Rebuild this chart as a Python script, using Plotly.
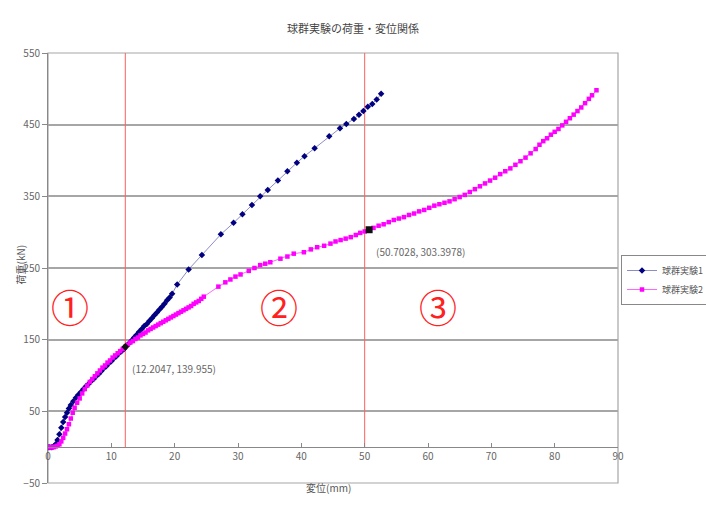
import plotly.graph_objects as go

# ---- data -------------------------------------------------------------
# 球群実験1: displacement (mm) / load (kN)
disp_1 = [0.0, 0.3, 0.6, 0.9, 1.2, 1.5, 1.8, 2.1, 2.4, 2.7, 3.0, 3.3, 3.6, 4.0, 4.4,
          4.8, 5.2, 5.6, 6.0, 6.4, 6.8, 7.2, 7.6, 8.0, 8.4, 8.8, 9.2, 9.6, 10.0, 10.4,
          10.8, 11.2, 11.6, 12.0, 12.4, 12.8, 13.2, 13.6, 14.0, 14.4, 14.8, 15.2, 15.6,
          16.0, 16.4, 16.8, 17.2, 17.6, 18.0, 18.4, 18.8, 19.2, 19.6,
          20.4, 22.2, 24.3, 27.3, 29.3, 30.7, 32.2, 33.5, 34.7, 36.3, 37.8, 39.3, 40.5,
          42.1, 44.4, 46.1, 47.1, 48.3, 49.1, 49.8, 50.5, 51.2, 51.9, 52.6]
load_1 = [0, 0, 0, 1, 4, 10, 18, 27, 35, 42, 48, 54, 59, 64, 69,
          73, 77, 81, 85, 88, 92, 95, 99, 102, 106, 110, 113, 117, 120, 124,
          127, 131, 134, 137, 141, 145, 149, 153, 157, 161, 165, 169, 172,
          176, 180, 184, 188, 192, 196, 200, 205, 209, 214,
          227, 248, 268, 297, 313, 325, 338, 350, 359, 372, 385, 397, 406,
          417, 434, 445, 451, 458, 464, 469, 475, 479, 485, 493]

# 球群実験2: displacement (mm) / load (kN)
disp_2 = [0.0, 0.3, 0.6, 0.9, 1.2, 1.5, 1.8, 2.1, 2.4, 2.7, 3.0, 3.3, 3.6, 3.9, 4.2,
          4.6, 5.0, 5.4, 5.8, 6.2, 6.6, 7.0, 7.4, 7.8, 8.2, 8.6, 9.0, 9.4, 9.8, 10.2,
          10.6, 11.0, 11.4, 11.8, 12.2, 12.6, 13.0, 13.4, 13.8, 14.2, 14.6, 15.0, 15.4,
          15.8, 16.2, 16.6, 17.0, 17.4, 17.8, 18.2, 18.6, 19.0, 19.4, 19.8, 20.2, 20.6,
          21.0, 21.4, 21.8, 22.2, 22.6, 23.0, 23.4, 23.8, 24.2, 24.6,
          26.9, 28.0, 28.8, 29.6, 30.4, 31.7, 32.6, 33.5, 34.3, 35.1, 36.7, 37.8, 38.8,
          40.4, 41.5, 42.5, 43.6, 44.6, 45.4, 46.2, 47.0, 47.8, 48.6,
          49.3, 50.0, 50.7, 51.4, 52.2, 53.0, 53.8, 54.6, 55.4, 56.2, 57.0, 57.8, 58.6, 59.4,
          60.2, 61.0, 61.8, 62.6, 63.4, 64.2, 65.0, 65.8, 66.6, 67.4, 68.2, 69.0, 69.8,
          70.6, 71.4, 72.2, 73.0, 73.8, 74.6, 75.4, 76.2, 77.0, 77.6, 78.2, 78.8, 79.4,
          80.0, 80.6, 81.2, 81.8, 82.4, 83.0, 83.6, 84.2, 84.8, 85.4, 85.9, 86.6]
load_2 = [0, 0, 0, 0, 1, 2, 4, 8, 13, 19, 25, 32, 40, 48, 55,
          62, 68, 75, 81, 86, 91, 95, 99, 103, 107, 111, 114, 118, 121, 125,
          128, 131, 134, 137, 140, 143, 146, 148, 151, 153, 156, 158, 160,
          163, 165, 167, 169, 171, 173, 175, 177, 179, 181, 183, 185, 187,
          189, 191, 193, 195, 197, 200, 202, 204, 207, 210,
          224, 230, 234, 238, 241, 246, 250, 254, 256, 258, 263, 266, 270,
          272, 276, 279, 281, 284, 287, 289, 291, 293, 296,
          299, 301, 303, 306, 309, 311, 314, 317, 319, 321, 324, 326, 329, 331,
          334, 337, 339, 341, 343, 346, 349, 352, 356, 360, 364, 368, 372,
          376, 381, 385, 389, 394, 399, 404, 410, 416, 422, 427, 431, 436,
          440, 444, 449, 454, 459, 464, 469, 474, 480, 486, 491, 498]

# labelled points
point_a = ("12.2047", "139.955")
point_b = ("50.7028", "303.3978")

# stage boundaries and stage markers
boundaries = [12.2047, 50.0]
stage_labels = ["①", "②", "③"]
stage_x = [3.5, 36.4, 61.5]
stage_y = [198, 198, 198]

x_ticks = [0, 10, 20, 30, 40, 50, 60, 70, 80, 90]
y_ticks = [-50, 50, 150, 250, 350, 450, 550]

JP = "Noto Sans CJK JP"
GRID = "#a6a6a6"

W, H = 706, 511
ML, MR, MT, MB = 48, 88, 53, 28
pw, ph = W - ML - MR, H - MT - MB


def px_to_paper(px, py):
    return (px - ML) / pw, (H - MB - py) / ph


fig = go.Figure()

# stage boundary lines
for b in boundaries:
    fig.add_trace(go.Scatter(x=[b, b], y=[0, 550], mode="lines",
                             line=dict(color="#ff6060", width=1),
                             showlegend=False, hoverinfo="skip"))

fig.add_trace(go.Scatter(
    x=disp_1, y=load_1, mode="lines+markers", name="球群実験1",
    line=dict(color="rgba(0,0,128,0.45)", width=1),
    marker=dict(symbol="diamond", size=5, color="#000080"),
))
fig.add_trace(go.Scatter(
    x=disp_2, y=load_2, mode="lines+markers", name="球群実験2",
    line=dict(color="rgba(255,0,255,0.6)", width=1),
    marker=dict(symbol="square", size=4.5, color="#ff00ff"),
))

# highlighted points
for p, sym, sz in ((point_a, "diamond", 6), (point_b, "square", 7)):
    fig.add_trace(go.Scatter(x=[float(p[0])], y=[float(p[1])], mode="markers",
                             marker=dict(symbol=sym, size=sz, color="#111111"),
                             showlegend=False))

annotations = []
for p in (point_a, point_b):
    annotations.append(dict(
        x=float(p[0]), y=float(p[1]), xref="x", yref="y", xanchor="left", yanchor="top",
        xshift=5, yshift=-12, showarrow=False,
        text=f"({p[0]}, {p[1]})",
        font=dict(family=JP, size=10, color="#666666"),
    ))
for t, sx, sy in zip(stage_labels, stage_x, stage_y):
    annotations.append(dict(
        x=sx, y=sy, xref="x", yref="y", showarrow=False, text=t,
        font=dict(family=JP, size=38, color="#ff2020"),
    ))

tx, ty = px_to_paper(W / 2, 18)
xx, xy = px_to_paper(328, 497)
yx, yy = px_to_paper(10, 265)
annotations += [
    dict(x=tx, y=ty, xref="paper", yref="paper", showarrow=False,
         text="球群実験の荷重・変位関係",
         font=dict(family=JP, size=11, color="#444444")),
    dict(x=xx, y=xy, xref="paper", yref="paper", showarrow=False,
         text="変位(mm)", font=dict(family=JP, size=10, color="#555555")),
    dict(x=yx, y=yy, xref="paper", yref="paper", showarrow=False, textangle=-90,
         text="荷重(kN)", font=dict(family=JP, size=10, color="#555555")),
]

lx, ly = px_to_paper(621, 255)

fig.update_layout(
    width=W, height=H,
    margin=dict(l=ML, r=MR, t=MT, b=MB, autoexpand=False),
    plot_bgcolor="white", paper_bgcolor="white",
    font=dict(family=JP, size=10, color="#666666"),
    annotations=annotations,
    shapes=[dict(type="rect", xref="paper", yref="paper", x0=0, x1=1, y0=0, y1=1,
                 line=dict(color=GRID, width=1.2), layer="below")],
    legend=dict(x=lx, y=ly, xanchor="left", yanchor="top",
                bgcolor="white", bordercolor="#888888", borderwidth=1,
                font=dict(family=JP, size=9, color="#555555"),
                tracegroupgap=0, itemwidth=30),
    xaxis=dict(range=[0, 90], tickvals=x_ticks, showgrid=False, zeroline=False,
               anchor="free", position=50 / 600,
               showline=True, linecolor="#888888", linewidth=1,
               ticks="inside", ticklen=4, tickcolor="#888888",
               tickfont=dict(family=JP, size=10, color="#666666")),
    yaxis=dict(range=[-50, 550], tickvals=y_ticks, showgrid=True, gridcolor=GRID,
               gridwidth=1.5, zeroline=False, showline=True, linecolor="#888888",
               linewidth=1, ticks="outside", ticklen=5, tickcolor="#888888",
               tickfont=dict(family=JP, size=10, color="#666666")),
)

fig.write_html("out.html")
